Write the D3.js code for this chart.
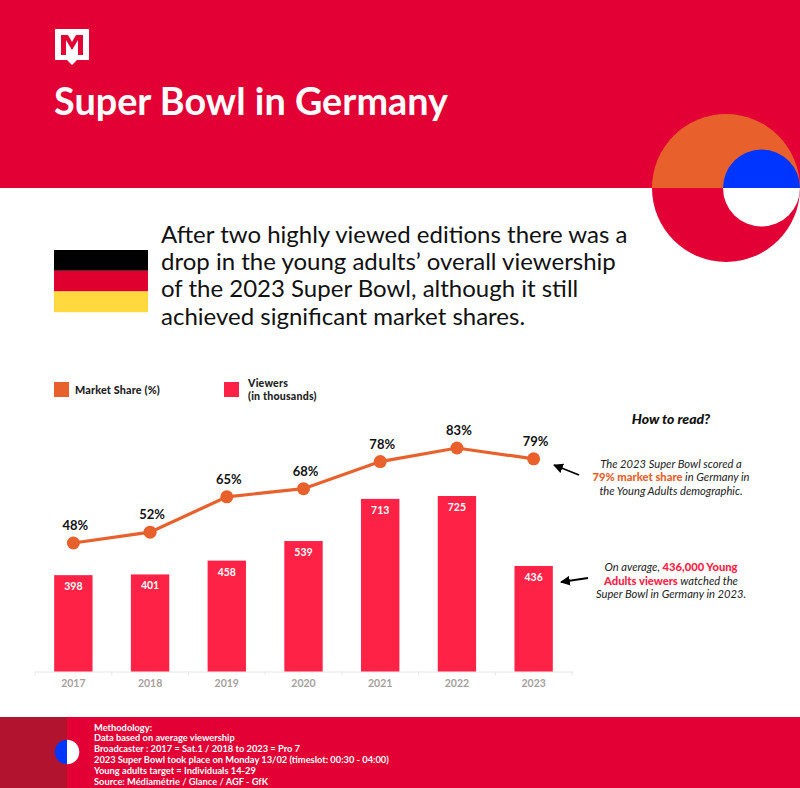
<!DOCTYPE html>
<html lang="en">
<head>
<meta charset="UTF-8">
<title>Super Bowl in Germany</title>
<script src="https://cdn.jsdelivr.net/npm/d3@7"></script>
<style>
html, body { margin: 0; padding: 0; background: #fff; }
svg { display: block; font-family: Lato, sans-serif; }
</style>
</head>
<body>
<div id="output"></div>
<script>

var years = ["2017", "2018", "2019", "2020", "2021", "2022", "2023"];
var viewers = [398, 401, 458, 539, 713, 725, 436];
var marketShare = [48, 52, 65, 68, 78, 83, 79];

var introLines = [
    "After two highly viewed editions there was a",
    "drop in the young adults’ overall viewership",
    "of the 2023 Super Bowl, although it still",
    "achieved significant market shares."
];
var methodLines = [
    "Methodology:",
    "Data based on average viewership",
    "Broadcaster : 2017 = Sat.1 / 2018 to 2023 = Pro 7",
    "2023 Super Bowl took place on Monday 13/02 (timeslot: 00:30 - 04:00)",
    "Young adults target = Individuals 14-29",
    "Source: Médiamétrie / Glance / AGF - GfK"
];

var red = "#e20034", orange = "#e8612c", pink = "#ff2247", blue = "#0035ff";

var svg = d3.select("#output").append("svg")
    .attr("width", 800).attr("height", 788);

// header
svg.append("rect").attr("width", 800).attr("height", 188).attr("fill", red);

svg.append("path")
    .attr("fill-rule", "evenodd")
    .attr("fill", "#fff")
    .attr("d", "M55 29H89V60H77L72 65L67 60H55Z M61 55H66V40L72 50L78 40V55H83V35H76L72 42L68 35H61Z");

svg.append("text").attr("x", 54).attr("y", 115)
    .attr("font-size", 37.8).attr("font-weight", 700).attr("fill", "#fff")
    .text("Super Bowl in Germany");

// circles on the right of the header
var arc = d3.arc();
function halfDisc(cx, cy, r, start, color) {
    svg.append("path")
        .attr("transform", "translate(" + cx + "," + cy + ")")
        .attr("fill", color)
        .attr("d", arc({innerRadius: 0, outerRadius: r, startAngle: start, endAngle: start + Math.PI}));
}
halfDisc(726, 188, 74, -Math.PI / 2, orange);
halfDisc(726, 188, 74, Math.PI / 2, red);
halfDisc(761.5, 188, 38.5, -Math.PI / 2, blue);
halfDisc(761.5, 188, 38.5, Math.PI / 2, "#fff");

// flag
["#000000", "#e0002f", "#ffd93d"].forEach(function (c, i) {
    svg.append("rect").attr("x", 54).attr("y", 250 + i * 20.7)
        .attr("width", 94).attr("height", 20.8).attr("fill", c);
});

svg.append("g").selectAll("text").data(introLines).join("text")
    .attr("x", 161)
    .attr("y", function (d, i) { return 243 + i * 27.2; })
    .attr("font-size", 24)
    .attr("fill", "#111")
    .text(function (d) { return d; });

// legend
svg.append("rect").attr("x", 54).attr("y", 382).attr("width", 15).attr("height", 15).attr("fill", orange);
svg.append("text").attr("x", 75).attr("y", 394)
    .attr("font-size", 10.8).attr("font-weight", 900).attr("letter-spacing", 0.15).attr("fill", "#222")
    .text("Market Share (%)");
svg.append("rect").attr("x", 224).attr("y", 382).attr("width", 15).attr("height", 15).attr("fill", pink);
svg.append("text").attr("x", 248).attr("y", 387)
    .attr("font-size", 10.6).attr("font-weight", 900).attr("letter-spacing", 0.2).attr("fill", "#222")
    .text("Viewers");
svg.append("text").attr("x", 248).attr("y", 400)
    .attr("font-size", 10.6).attr("font-weight", 900).attr("letter-spacing", 0.2).attr("fill", "#222")
    .text("(in thousands)");

// chart
var xScale = d3.scaleBand().domain(years).range([35, 572]).paddingInner(0.5).paddingOuter(0.25);
var yViewers = d3.scaleLinear().domain([0, 725]).range([671.5, 496]);
var yShare = d3.scaleLinear().domain([48, 83]).range([543, 448]);
var xMid = function (d) { return xScale(d) + xScale.bandwidth() / 2; };

var xAxis = svg.append("g")
    .attr("transform", "translate(0,671.5)")
    .call(d3.axisBottom(xScale).tickSize(0).tickPadding(8));
xAxis.select(".domain").attr("stroke", "#e6e6e6");
xAxis.selectAll("text")
    .attr("font-family", "Lato").attr("font-size", 10.5).attr("font-weight", 700).attr("fill", "#a79f9f");

svg.append("g").selectAll("line").data(d3.range(years.length + 1)).join("line")
    .attr("x1", function (d) { return 35 + d * xScale.step(); })
    .attr("x2", function (d) { return 35 + d * xScale.step(); })
    .attr("y1", 671.5).attr("y2", 675)
    .attr("stroke", "#e6e6e6");

svg.append("g").selectAll("rect").data(years).join("rect")
    .attr("x", function (d) { return xScale(d); })
    .attr("y", function (d, i) { return yViewers(viewers[i]); })
    .attr("width", xScale.bandwidth())
    .attr("height", function (d, i) { return yViewers(0) - yViewers(viewers[i]); })
    .attr("fill", pink);

svg.append("g").selectAll("text").data(years).join("text")
    .attr("x", xMid)
    .attr("y", function (d, i) { return yViewers(viewers[i]) + 15; })
    .attr("text-anchor", "middle")
    .attr("font-size", 10.5).attr("font-weight", 700).attr("fill", "#fff")
    .text(function (d, i) { return viewers[i]; });

var line = d3.line()
    .x(function (d, i) { return xMid(years[i]); })
    .y(function (d) { return yShare(d); });

svg.append("path").datum(marketShare)
    .attr("d", line).attr("fill", "none")
    .attr("stroke", orange).attr("stroke-width", 3.2);

svg.append("g").selectAll("circle").data(marketShare).join("circle")
    .attr("cx", function (d, i) { return xMid(years[i]); })
    .attr("cy", function (d) { return yShare(d); })
    .attr("r", 6.5).attr("fill", orange);

svg.append("g").selectAll("text").data(marketShare).join("text")
    .attr("x", function (d, i) { return xMid(years[i]) + 2; })
    .attr("y", function (d) { return yShare(d) - 13; })
    .attr("text-anchor", "middle")
    .attr("font-size", 13).attr("font-weight", 700).attr("fill", "#111")
    .text(function (d) { return d + "%"; });

// how to read
svg.append("text").attr("x", 671).attr("y", 424)
    .attr("text-anchor", "middle").attr("font-size", 14)
    .attr("font-weight", 900).attr("font-style", "italic").attr("fill", "#111")
    .text("How to read?");

function note(y, parts) {
    var t = svg.append("text").attr("x", 671).attr("y", y)
        .attr("text-anchor", "middle").attr("font-size", 11.2)
        .attr("font-style", "italic").attr("fill", "#222");
    parts.forEach(function (p) {
        var s = t.append("tspan").text(p.text);
        if (p.color) s.attr("fill", p.color).attr("font-weight", 900).attr("font-style", "normal");
    });
}
note(468, [{text: "The 2023 Super Bowl scored a"}]);
note(481, [{text: "79% market share", color: orange}, {text: " in Germany in"}]);
note(495, [{text: "the Young Adults demographic."}]);
note(571, [{text: "On average, "}, {text: "436,000 Young", color: pink}]);
note(585, [{text: "Adults viewers", color: pink}, {text: " watched the"}]);
note(598, [{text: "Super Bowl in Germany in 2023."}]);

// arrows
svg.append("defs").append("marker")
    .attr("id", "head").attr("viewBox", "0 0 10 10")
    .attr("refX", 9).attr("refY", 5)
    .attr("markerWidth", 5.5).attr("markerHeight", 5.5)
    .attr("orient", "auto")
    .append("path").attr("d", "M0 0L10 5L0 10Z").attr("fill", "#000");
[[579, 475, 554, 465], [588, 578, 561, 582]].forEach(function (a) {
    svg.append("line")
        .attr("x1", a[0]).attr("y1", a[1]).attr("x2", a[2]).attr("y2", a[3])
        .attr("stroke", "#000").attr("stroke-width", 1.8)
        .attr("marker-end", "url(#head)");
});

// footer
svg.append("rect").attr("y", 717).attr("width", 800).attr("height", 71).attr("fill", red);
svg.append("rect").attr("y", 717).attr("width", 67).attr("height", 71).attr("fill", "#b2132f");
halfDisc(67, 752, 12.3, Math.PI, blue);
halfDisc(67, 752, 12.3, 0, "#fff");

svg.append("g").selectAll("text").data(methodLines).join("text")
    .attr("x", 94)
    .attr("y", function (d, i) { return 730.5 + i * 10.8; })
    .attr("font-size", 9.3).attr("font-weight", 700).attr("fill", "#fff")
    .text(function (d) { return d; });

</script>
</body>
</html>
